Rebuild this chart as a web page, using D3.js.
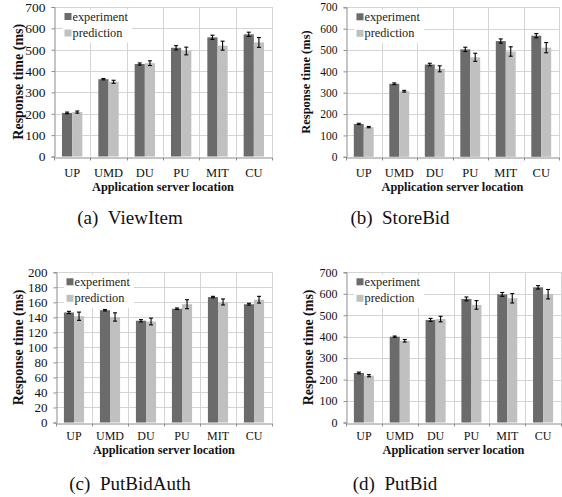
<!DOCTYPE html>
<html>
<head>
<meta charset="utf-8">
<script src="https://cdn.jsdelivr.net/npm/d3@7"></script>
<style>
  html, body { margin: 0; padding: 0; background: #fff; }
  svg { display: block; font-family: "Liberation Serif", "Times New Roman", serif; }
</style>
</head>
<body>
<svg id="chart" width="562" height="497"></svg>
<script>
// ---------- data ----------
const categories = ["UP", "UMD", "DU", "PU", "MIT", "CU"];
const seriesNames = ["experiment", "prediction"];

const viewItemExp      = [204, 362, 433, 509, 558, 572];
const viewItemExpErr   = [4, 3, 5, 10, 10, 10];
const viewItemPred     = [208, 350, 437, 494, 519, 534];
const viewItemPredErr  = [5, 7, 11, 18, 21, 23];

const storeBidExp      = [154, 342, 432, 503, 542, 567];
const storeBidExpErr   = [3, 4, 6, 10, 10, 10];
const storeBidPred     = [139, 307, 412, 466, 493, 511];
const storeBidPredErr  = [3, 4, 14, 19, 22, 24];

const putBidAuthExp     = [146.5, 149.5, 135.5, 151.5, 167, 157.5];
const putBidAuthExpErr  = [1.5, 1, 1.5, 1, 1, 1.2];
const putBidAuthPred    = [141.5, 140.5, 134.5, 157.5, 160.5, 163.5];
const putBidAuthPredErr = [5.5, 5.5, 4.5, 6, 4, 4.5];

const putBidExp      = [231, 400, 478, 576, 597, 630];
const putBidExpErr   = [4, 3, 7, 9, 9, 8];
const putBidPred     = [218, 381, 482, 548, 579, 598];
const putBidPredErr  = [5, 6, 13, 20, 22, 22];

const ticks700 = [0, 100, 200, 300, 400, 500, 600, 700];
const ticks200 = [0, 20, 40, 60, 80, 100, 120, 140, 160, 180, 200];

const captions = ["(a)\u2002ViewItem", "(b)\u2002StoreBid", "(c)\u2002PutBidAuth", "(d)\u2002PutBid"];
const yTitle = "Response time (ms)";
const xTitle = "Application server location";

// ---------- drawing ----------
const svg = d3.select("#chart");
const colors = ["#6b6b6b", "#c0c0c0"];

const panels = [
  { exp: viewItemExp, expErr: viewItemExpErr, pred: viewItemPred, predErr: viewItemPredErr,
    ticks: ticks700, caption: captions[0],
    box: { left: 54, right: 272, top: 7, bottom: 156.5 },
    tickFont: 13.5, yTitleFont: 14, yTitleX: 18, capX: 130, capY: 224, labY: 176.5, titY: 191, labFont: 12.5 },
  { exp: storeBidExp, expErr: storeBidExpErr, pred: storeBidPred, predErr: storeBidPredErr,
    ticks: ticks700, caption: captions[1],
    box: { left: 346, right: 559, top: 7.3, bottom: 156.8 },
    tickFont: 11.5, yTitleFont: 12.5, yTitleX: 306, capX: 400, capY: 224, labY: 177, titY: 191, labFont: 12.5 },
  { exp: putBidAuthExp, expErr: putBidAuthExpErr, pred: putBidAuthPred, predErr: putBidAuthPredErr,
    ticks: ticks200, caption: captions[2],
    box: { left: 56, right: 272, top: 272.3, bottom: 422.5 },
    tickFont: 13, yTitleFont: 14, yTitleX: 18, capX: 130, capY: 490, labY: 439.5, titY: 454, labFont: 12 },
  { exp: putBidExp, expErr: putBidExpErr, pred: putBidPred, predErr: putBidPredErr,
    ticks: ticks700, caption: captions[3],
    box: { left: 346, right: 561, top: 272.3, bottom: 422.5 },
    tickFont: 12, yTitleFont: 14, yTitleX: 308, capX: 395, capY: 490, labY: 439.5, titY: 454, labFont: 12 }
];

panels.forEach(p => {
  const b = p.box;
  const g = svg.append("g");
  const x = d3.scaleBand().domain(categories).range([b.left, b.right]).padding(0);
  const y = d3.scaleLinear().domain([0, d3.max(p.ticks)]).range([b.bottom, b.top]);
  const step = x.step();
  const barW = step * 0.28;

  // horizontal grid
  g.append("g").selectAll("line").data(p.ticks.slice(1)).join("line")
    .attr("x1", b.left).attr("x2", b.right)
    .attr("y1", d => Math.round(y(d)) + 0.5).attr("y2", d => Math.round(y(d)) + 0.5)
    .attr("stroke", "#d4d4d4").attr("stroke-width", 1);
  // vertical grid at category boundaries
  const bounds = categories.map(c => x(c)).concat([b.right]).slice(1);
  g.append("g").selectAll("line").data(bounds).join("line")
    .attr("x1", d => Math.round(d) + 0.5).attr("x2", d => Math.round(d) + 0.5)
    .attr("y1", b.top).attr("y2", b.bottom)
    .attr("stroke", "#d4d4d4").attr("stroke-width", 1);

  // bars
  const rows = categories.map((c, i) => ({ c, vals: [p.exp[i], p.pred[i]], errs: [p.expErr[i], p.predErr[i]] }));
  const grp = g.append("g").selectAll("g").data(rows).join("g");
  [0, 1].forEach(k => {
    grp.append("rect")
      .attr("x", d => x(d.c) + step / 2 - barW + k * barW)
      .attr("width", barW)
      .attr("y", d => y(d.vals[k]))
      .attr("height", d => y(0) - y(d.vals[k]))
      .attr("fill", colors[k]);
  });

  // legend background and legend
  const lg = g.append("g");
  lg.append("rect").attr("x", b.left + 8).attr("y", b.top + 2.5).attr("width", 70).attr("height", 33)
    .attr("fill", "#fff");
  seriesNames.forEach((s, k) => {
    lg.append("rect").attr("x", b.left + 10.5).attr("y", b.top + 6 + k * 16.5).attr("width", 7).attr("height", 7)
      .attr("fill", colors[k]);
    lg.append("text").attr("x", b.left + 18.5).attr("y", b.top + 13.5 + k * 16.5)
      .attr("font-size", 12.3).attr("fill", "#222").text(s);
  });

  // error bars
  [0, 1].forEach(k => {
    const cx = d => x(d.c) + step / 2 - barW / 2 + k * barW;
    const eb = grp.append("g").attr("stroke", "#000").attr("stroke-width", 1.1);
    eb.append("line").attr("x1", cx).attr("x2", cx)
      .attr("y1", d => y(d.vals[k] + d.errs[k])).attr("y2", d => y(d.vals[k] - d.errs[k]));
    eb.append("line").attr("x1", d => cx(d) - 2).attr("x2", d => cx(d) + 2)
      .attr("y1", d => y(d.vals[k] + d.errs[k])).attr("y2", d => y(d.vals[k] + d.errs[k]));
    eb.append("line").attr("x1", d => cx(d) - 2).attr("x2", d => cx(d) + 2)
      .attr("y1", d => y(d.vals[k] - d.errs[k])).attr("y2", d => y(d.vals[k] - d.errs[k]));
  });

  // y axis
  const ya = g.append("g").attr("transform", `translate(${Math.round(b.left) + 0.5},0)`)
    .call(d3.axisLeft(y).tickValues(p.ticks).tickSize(3).tickPadding(6).tickFormat(d3.format("d")));
  ya.select(".domain").attr("stroke", "#8c8c8c");
  ya.selectAll(".tick line").attr("stroke", "#8c8c8c");
  ya.selectAll("text").attr("font-size", p.tickFont).attr("font-family", "Liberation Serif").attr("fill", "#111");

  // x axis
  const xa = g.append("g").attr("transform", `translate(0,${Math.round(b.bottom) + 0.5})`)
    .call(d3.axisBottom(x).tickSize(0).tickPadding(0));
  xa.select(".domain").attr("stroke", "#8c8c8c");
  xa.selectAll("text").attr("font-size", p.labFont).attr("font-family", "Liberation Serif").attr("fill", "#111")
    .attr("dy", null).attr("y", p.labY - Math.round(b.bottom) - 0.5);
  // tick marks at category boundaries
  g.append("g").selectAll("line").data(categories.map(c => x(c)).concat([b.right])).join("line")
    .attr("x1", d => Math.round(d) + 0.5).attr("x2", d => Math.round(d) + 0.5)
    .attr("y1", Math.round(b.bottom) + 0.5).attr("y2", Math.round(b.bottom) + 3.5)
    .attr("stroke", "#8c8c8c");

  // axis titles
  g.append("text").attr("x", (b.left + b.right) / 2).attr("y", p.titY)
    .attr("text-anchor", "middle").attr("font-weight", "bold").attr("font-size", 12.3).attr("fill", "#111")
    .text(xTitle);
  g.append("text")
    .attr("transform", `translate(${p.yTitleX},${(b.top + b.bottom) / 2}) rotate(-90)`)
    .attr("text-anchor", "middle").attr("dominant-baseline", "central")
    .attr("font-weight", "bold").attr("font-size", p.yTitleFont).attr("fill", "#111")
    .text(yTitle);

  // caption
  g.append("text").attr("x", p.capX).attr("y", p.capY).attr("text-anchor", "middle")
    .attr("font-size", 19).attr("fill", "#111").text(p.caption);
});
</script>
</body>
</html>
